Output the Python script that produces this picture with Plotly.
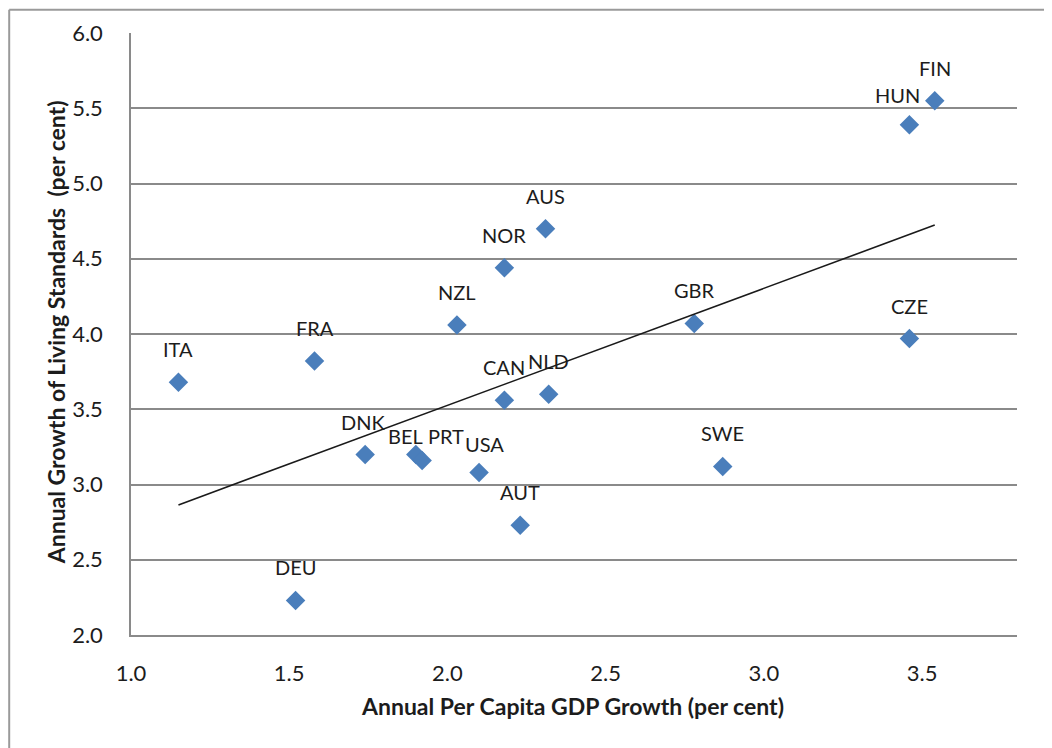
import numpy as np
import plotly.graph_objects as go

# ---- data ----
countries = ["ITA", "FRA", "DEU", "DNK", "BEL", "PRT", "USA", "AUT", "NZL",
             "NOR", "AUS", "CAN", "NLD", "GBR", "SWE", "CZE", "HUN", "FIN"]
gdp_growth = [1.15, 1.58, 1.52, 1.74, 1.90, 1.92, 2.10, 2.23, 2.03,
              2.18, 2.31, 2.18, 2.32, 2.78, 2.87, 3.46, 3.46, 3.54]
living_std_growth = [3.68, 3.82, 2.23, 3.20, 3.20, 3.16, 3.08, 2.73, 4.06,
                     4.44, 4.70, 3.56, 3.60, 4.07, 3.12, 3.97, 5.39, 5.55]
x_ticks = [1.0, 1.5, 2.0, 2.5, 3.0, 3.5]
y_ticks = [2.0, 2.5, 3.0, 3.5, 4.0, 4.5, 5.0, 5.5, 6.0]

# ---- label offsets (layout, pixels) ----
default_shift = (0, 33)
label_shift = {"BEL": (-10, 18), "PRT": (24, 24), "USA": (5, 28),
               "HUN": (-12, 30), "DNK": (-2, 32)}

W, H = 1052, 748
OFF = 8  # page body margin
# plot area in screen pixels
SL, ST, SR, SB = 131, 32.5, 1017, 635
L, T = SL - OFF, ST - OFF
pw, ph = SR - SL, SB - ST
R = W - L - pw
B = H - T - ph

FONT = "Lato, Carlito, 'Open Sans', sans-serif"
BLUE = "#4a7ebb"
GRID = "#8a8a8a"
TXT = "#1c1c1c"

fig = go.Figure()

fig.add_trace(go.Scatter(
    x=gdp_growth, y=living_std_growth, mode="markers",
    marker=dict(symbol="diamond", size=15, color=BLUE, line=dict(width=0)),
    showlegend=False, hoverinfo="text", text=countries))

# linear trend (least squares)
slope, intercept = np.polyfit(gdp_growth, living_std_growth, 1)
tx = [min(gdp_growth), max(gdp_growth)]
ty = [slope * v + intercept for v in tx]
fig.add_trace(go.Scatter(x=tx, y=ty, mode="lines",
                         line=dict(color="#1a1a1a", width=1.6),
                         showlegend=False, hoverinfo="skip"))

annotations = []
for c, xv, yv in zip(countries, gdp_growth, living_std_growth):
    dx, dy = label_shift.get(c, default_shift)
    annotations.append(dict(x=xv, y=yv, xref="x", yref="y", text=c,
                            showarrow=False, xshift=dx, yshift=dy,
                            xanchor="center", yanchor="middle",
                            font=dict(family=FONT, size=20, color=TXT)))

def px_x(p):  # screen pixel -> paper
    return (p - SL) / pw

def px_y(p):
    return (SB - p) / ph

annotations.append(dict(text="<b>Annual Per Capita GDP Growth (per cent)</b>",
                        xref="paper", yref="paper", x=px_x(572), y=px_y(706),
                        showarrow=False, xanchor="center", yanchor="middle",
                        font=dict(family=FONT, size=23, color=TXT)))
annotations.append(dict(text="<b>Annual Growth of Living Standards  (per cent)</b>",
                        xref="paper", yref="paper", x=px_x(56), y=px_y(332),
                        showarrow=False, xanchor="center", yanchor="middle",
                        textangle=-90,
                        font=dict(family=FONT, size=23, color=TXT)))

EDGE = OFF + 1.2
shapes = [
    dict(type="line", xref="paper", yref="paper", x0=px_x(EDGE), x1=px_x(EDGE),
         y0=px_y(EDGE), y1=px_y(770), line=dict(color="#9a9a9a", width=2)),
    dict(type="line", xref="paper", yref="paper", x0=px_x(EDGE), x1=px_x(1070),
         y0=px_y(EDGE), y1=px_y(EDGE), line=dict(color="#9a9a9a", width=2)),
    dict(type="line", xref="paper", yref="paper", x0=px_x(1046), x1=px_x(1046),
         y0=px_y(EDGE), y1=px_y(770), line=dict(color="#e4e4e4", width=1.5)),
]

fig.update_layout(
    width=W, height=H,
    margin=dict(l=L, r=R, t=T, b=B, autoexpand=False),
    paper_bgcolor="white", plot_bgcolor="white",
    annotations=annotations, shapes=shapes,
    xaxis=dict(range=[1.0, 3.8], tickvals=x_ticks, ticktext=[f"{v:.1f}" for v in x_ticks],
               showgrid=False, zeroline=False, showline=True, linecolor=GRID,
               linewidth=1.5, ticks="", ticklabelstandoff=18,
               tickfont=dict(family=FONT, size=22, color=TXT)),
    yaxis=dict(range=[2.0, 6.0], tickvals=y_ticks, ticktext=[f"{v:.1f}" for v in y_ticks],
               showgrid=True, gridcolor=GRID, gridwidth=1.5, zeroline=False,
               showline=True, linecolor=GRID, linewidth=1.5, ticks="",
               ticklabelstandoff=22,
               tickfont=dict(family=FONT, size=22, color=TXT)),
)

fig.write_html("out.html")
